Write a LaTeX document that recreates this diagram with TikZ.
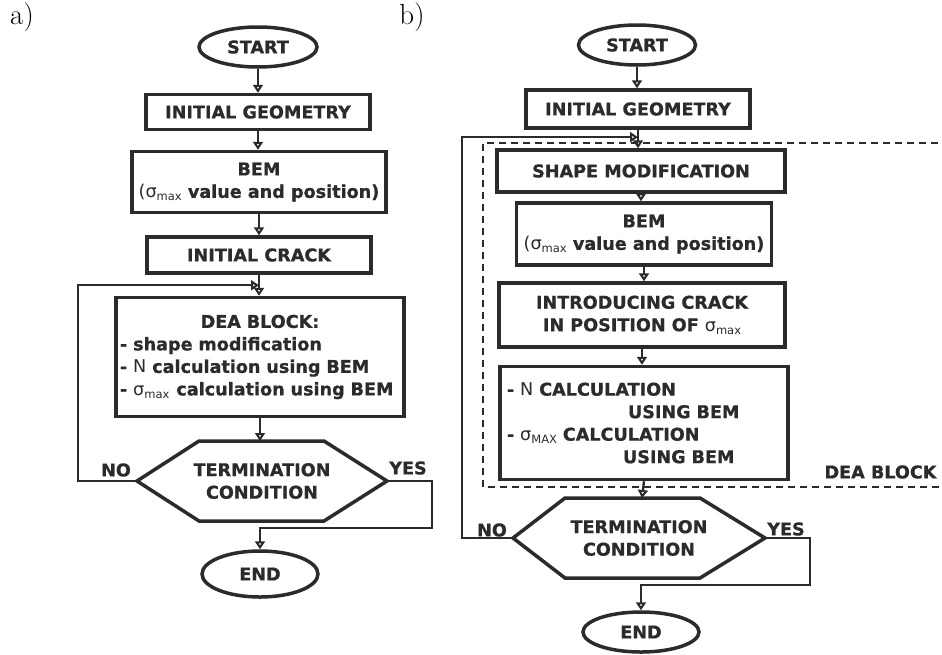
\documentclass[tikz,border=0pt]{standalone}
\usepackage{fontspec}
\newfontfamily\vf[BoldFeatures={FakeBold=0.8}]{DejaVu Sans}
\usetikzlibrary{arrows.meta,shapes.geometric,calc}
\definecolor{ink}{gray}{0.17}
\newcommand\smax{{\mdseries σ\raisebox{-3pt}{\fontsize{11.5}{11.5}\selectfont max}}}
\newcommand\sMAX{{\mdseries σ\raisebox{-3pt}{\fontsize{11.5}{11.5}\selectfont MAX}}}
\begin{document}
\begin{tikzpicture}[x=1pt,y=-1pt,
  every node/.style={font=\vf\bfseries\fontsize{17.6}{22.5}\selectfont, text=ink},
  box/.style={draw=ink, line width=3.5pt, rectangle, inner sep=0pt, align=center},
  term/.style={draw=ink, line width=3.5pt, ellipse, inner sep=0pt},
  conn/.style={draw=ink, line width=2.3pt, -{Triangle[open,length=8pt,width=10pt]}},
  hexline/.style={draw=ink, line width=3.5pt, line join=miter},
  lbl/.style={font=\rmfamily\mdseries\fontsize{29}{29}\selectfont, text=black},
  dea/.style={draw=ink, line width=2.2pt, dash pattern=on 7pt off 5pt}
]
\useasboundingbox (0,0) rectangle (942,654);
\fill[white] (0,0) rectangle (942,654);

% ---------- a) ----------
\node[lbl] (la) at (22,17) {a)};
\node[term, minimum width=118, minimum height=40] (startA) at (258,47) {START};
\node[box, minimum width=224, minimum height=35] (igA) at (258,112) {INITIAL GEOMETRY};
\node[box, minimum width=254, minimum height=61] (bemA) at (259,182) {BEM\\{\mdseries(}\smax\ value and position)};
\node[box, minimum width=288, minimum height=119, text width=280, align=left] (deaA) at (260,357)
  {\makebox[280pt][c]{DEA BLOCK:}\\- shape modification\\- {\mdseries N} calculation using BEM\\\mbox{- \smax\hspace{7pt}calculation using BEM}};
\node[box, minimum width=224, minimum height=36] (icA) at (259,255) {INITIAL CRACK};
\node[align=center] (hexA) at (262,481) {TERMINATION\\CONDITION};
\coordinate (hexAL) at ($(hexA)+(-125,0)$);
\coordinate (hexAR) at ($(hexA)+(125,0)$);
\coordinate (hexAT) at ($(hexA)+(-2,-40)$);
\draw[hexline] (hexAL) -- ($(hexA)+(-63,-40)$) -- ($(hexA)+(62,-40)$) -- (hexAR)
  -- ($(hexA)+(62,40)$) -- ($(hexA)+(-63,40)$) -- cycle;
\node[term, minimum width=116, minimum height=46] (endA) at (260,574) {END};
\node (noA) at (116,470) {NO};
\node (yesA) at (408,468) {YES};

\draw[conn] (startA.south) -- (startA.south |- igA.north);
\draw[conn] (igA.south) -- (igA.south |- bemA.north);
\draw[conn] (bemA.south) -- (bemA.south |- icA.north);
\draw[conn] (icA.south) -- (icA.south |- deaA.north);
\coordinate (jA) at ($(icA.south)!0.5!(icA.south |- deaA.north)$);
\draw[conn] (deaA.south) -- (hexAT);
\draw[conn] (hexAL) -- ++(-59,0) |- (jA);
\draw[conn] (hexAR) -- ++(45,0) -- ++(0,47) -| (endA.north);

% ---------- b) ----------
\node[lbl] (lb) at (412,17) {b)};
\draw[dea] (950,143) -- (483,143) -- (483,487) -- (950,487);
\node[anchor=east] (deaLbl) at (940,472) {DEA BLOCK};
\node[term, minimum width=117, minimum height=40] (startB) at (637,45) {START};
\node[box, minimum width=224, minimum height=38] (igB) at (638,109) {INITIAL GEOMETRY};
\node[box, minimum width=288, minimum height=42] (shapeB) at (641,171) {SHAPE MODIFICATION};
\node[box, minimum width=255, minimum height=62] (bemB) at (644,234) {BEM\\{\mdseries(}\smax\ value and position)};
\node[box, minimum width=286, minimum height=64] (crackB) at (642,315) {INTRODUCING CRACK\\IN POSITION OF \smax};
\node[box, minimum width=288, minimum height=113, text width=274, align=left] (calcB) at (644,423)
  {- {\mdseries N} CALCULATION\\\hspace*{121pt}USING BEM\\- \sMAX\ CALCULATION\\\hspace*{116pt}USING BEM};
\node[align=center] (hexB) at (639,538) {TERMINATION\\CONDITION};
\coordinate (hexBL) at ($(hexB)+(-126,0)$);
\coordinate (hexBR) at ($(hexB)+(126,0)$);
\coordinate (hexBT) at ($(hexB)+(3,-40)$);
\draw[hexline] (hexBL) -- ($(hexB)+(-74,-40)$) -- ($(hexB)+(61,-40)$) -- (hexBR)
  -- ($(hexB)+(61,40)$) -- ($(hexB)+(-74,40)$) -- cycle;
\node[term, minimum width=116, minimum height=40] (endB) at (641,632) {END};
\node (noB) at (492,530) {NO};
\node (yesB) at (786,529) {YES};

\draw[conn] (startB.south) -- (startB.south |- igB.north);
\draw[conn] (igB.south) -- (igB.south |- shapeB.north);
\draw[conn] (shapeB.south) -- (shapeB.south |- bemB.north);
\draw[conn] (bemB.south) -- (bemB.south |- crackB.north);
\draw[conn] (crackB.south) -- (crackB.south |- calcB.north);
\draw[conn] (calcB.south) -- (hexBT);
\coordinate (jB) at ($(igB.south)!0.4!(igB.south |- shapeB.north)$);
\draw[conn] (hexBL) -- ++(-51,0) |- (jB);
\draw[conn] (hexBR) -- ++(45,0) -- ++(0,47) -| (endB.north);
\end{tikzpicture}
\end{document}
